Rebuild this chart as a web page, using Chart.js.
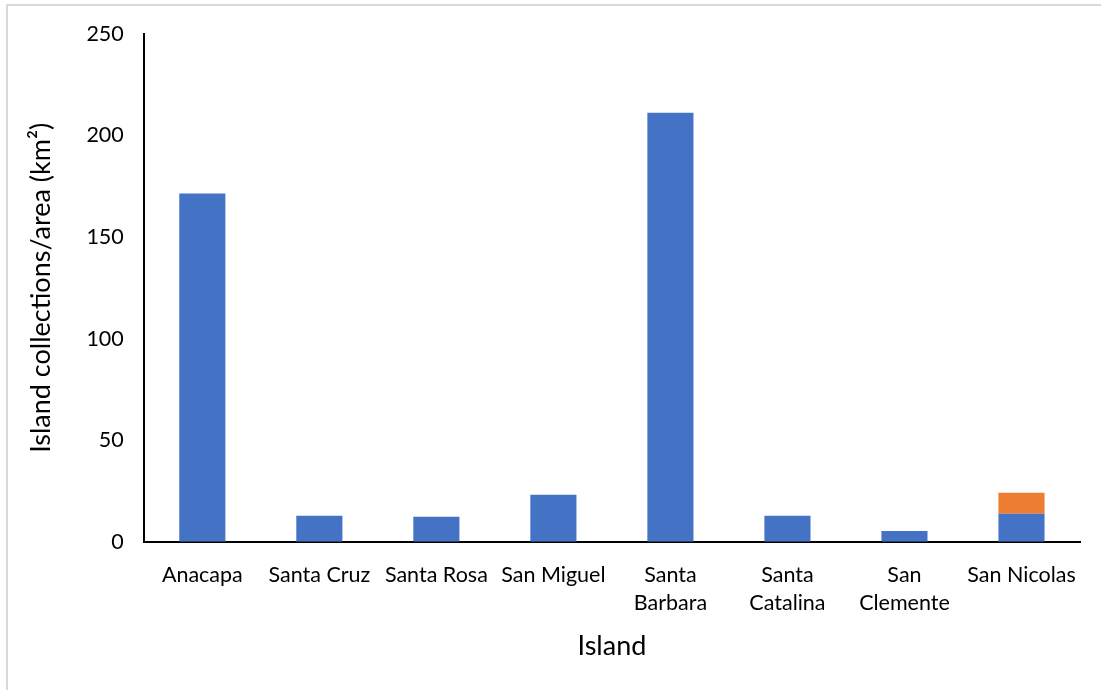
<!DOCTYPE html>
<html>
<head>
<meta charset="utf-8">
<script src="https://cdn.jsdelivr.net/npm/chart.js@4"></script>
<style>
  html, body { margin: 0; padding: 0; background: #fff; }
  #frame { position: absolute; left: 6px; top: 4px; width: 1100px; height: 690px; border: 2px solid #d9d9d9; box-sizing: border-box; }
  #wrap { position: absolute; left: 0; top: 0; width: 1101px; height: 690px; }
</style>
</head>
<body>
<div id="frame"></div>
<div id="wrap"><canvas id="c"></canvas></div>
<script>
const categories = ["Anacapa", ["Santa Cruz"], ["Santa Rosa"], ["San Miguel"], ["Santa", "Barbara"], ["Santa", "Catalina"], ["San", "Clemente"], ["San Nicolas"]];
const seriesBlue = [171.5, 12.8, 12.3, 23.1, 211.2, 12.8, 5.3, 13.8];
const seriesOrange = [0, 0, 0, 0, 0, 0, 0, 10.3];
const yTicks = [0, 50, 100, 150, 200, 250];
const yTitle = "Island collections/area (km\u00B2)";
const xTitle = "Island";

const FONT = "Lato, 'Open Sans', sans-serif";
new Chart(document.getElementById('c'), {
  type: 'bar',
  data: {
    labels: categories,
    datasets: [
      { label: 'A', data: seriesBlue, backgroundColor: '#4472C4', barPercentage: 0.394, categoryPercentage: 1.0 },
      { label: 'B', data: seriesOrange, backgroundColor: '#ED7D31', barPercentage: 0.394, categoryPercentage: 1.0 }
    ]
  },
  options: {
    responsive: true,
    maintainAspectRatio: false,
    animation: false,
    layout: { padding: { top: 34, right: 21, bottom: 24, left: 21 } },
    plugins: { legend: { display: false }, tooltip: { enabled: false } },
    scales: {
      x: {
        stacked: true,
        grid: { display: false, drawTicks: false },
        border: { display: true, color: '#000', width: 2 },
        ticks: { color: '#000', font: { family: FONT, size: 21.5, lineHeight: 1.3 }, padding: 19, maxRotation: 0, autoSkip: false },
        title: { display: true, text: xTitle, color: '#000', font: { family: FONT, size: 27 }, padding: { top: -6 } }
      },
      y: {
        stacked: true,
        min: 0, max: 250,
        grid: { display: false, drawTicks: false },
        border: { display: true, color: '#000', width: 2 },
        afterBuildTicks: (axis) => { axis.ticks = yTicks.map(v => ({ value: v })); },
        ticks: { color: '#000', font: { family: FONT, size: 21.5 }, padding: 20 },
        title: { display: true, text: yTitle, color: '#000', font: { family: FONT, size: 27 }, padding: { bottom: 9 } }
      }
    }
  }
});
</script>
</body>
</html>
